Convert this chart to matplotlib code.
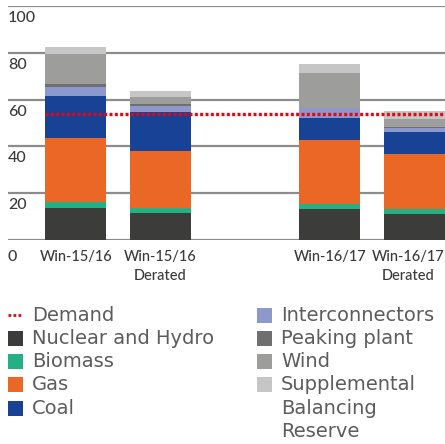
import numpy as np
import matplotlib
matplotlib.use("Agg")
import matplotlib.pyplot as plt
from matplotlib.patches import Rectangle
from matplotlib.lines import Line2D

# Winter capacity by source (GW)
categories = ["Win-15/16", "Win-15/16\nDerated", "Win-16/17", "Win-16/17\nDerated"]
positions = [0, 1, 3, 4]
label_positions = [0, 1, 3, 3.93]
nuclear_hydro = [13.7, 11.5, 13.2, 11.1]
biomass = [2.5, 2.3, 2.3, 2.1]
gas = [27.4, 24.2, 27.2, 23.6]
coal = [17.9, 16.8, 9.4, 9.4]
interconnectors = [3.9, 2.5, 4.3, 1.7]
peaking_plant = [1.3, 0.8, 0.0, 0.4]
wind = [12.8, 3.0, 15.0, 3.4]
sbr = [3.0, 2.6, 3.8, 3.4]
demand = 54.0
y_ticks = [0, 20, 40, 60, 80, 100]

series = [
    ("Nuclear and Hydro", nuclear_hydro, "#3c3c3b"),
    ("Biomass", biomass, "#23b082"),
    ("Gas", gas, "#eb6726"),
    ("Coal", coal, "#174296"),
    ("Interconnectors", interconnectors, "#8d98cc"),
    ("Peaking plant", peaking_plant, "#6f6f6f"),
    ("Wind", wind, "#9d9d9c"),
    ("Supplemental\nBalancing\nReserve", sbr, "#c6c6c6"),
]
demand_color = "#e30613"
text_color = "#3a3a3a"
legend_text_color = "#5c5c5c"

plt.rcParams["font.family"] = ["Lato", "DejaVu Sans"]

W, H = 445, 444
fig = plt.figure(figsize=(W / 100, H / 100), dpi=100)
ax = fig.add_axes([8 / W, (H - 240) / H, (445 - 8) / W, 234 / H])
ax.set_xlim(-0.8, 4.36)
ax.set_ylim(0, 100)
ax.axis("off")

for v in y_ticks:
    ax.axhline(v, color="#8c8c8c", lw=1.6, zorder=1)

bottom = np.zeros(len(positions))
for name, vals, col in series:
    ax.bar(positions, vals, width=0.72, bottom=bottom, color=col,
           linewidth=0, zorder=2)
    bottom += np.array(vals)

ax.plot([positions[0] - 0.36, 4.36], [demand, demand], color=demand_color,
        lw=2.4, ls=(0, (0.9, 0.7)), zorder=3)

# y labels sit just under their grid lines
for v in y_ticks:
    off = 7.3 if v == 0 else 5.1
    ax.text(-0.8, v - off, str(v), ha="left", va="center",
            fontsize=11.5, color=text_color, fontweight="medium")

for p, lab in zip(label_positions, categories):
    for i, ln in enumerate(lab.split("\n")):
        ax.text(p, -7.3 - i * 8.1, ln, ha="center", va="center",
                fontsize=10.5, color=text_color, fontweight="medium")

# legend, laid out in figure pixels
def fx(x):
    return x / W

def fy(y):
    return (H - y) / H

left_items = [("Demand", None)] + [(n, c) for n, _, c in series[:4]]
right_items = [(n, c) for n, _, c in series[4:]]
row_h = 23.3
for col_x, items in ((8, left_items), (257, right_items)):
    y = 315
    for name, col in items:
        if col is None:
            fig.add_artist(Line2D([fx(col_x), fx(col_x + 15)], [fy(y), fy(y)],
                                  color=demand_color, lw=2, ls=(0, (1, 0.8))))
        else:
            fig.add_artist(Rectangle((fx(col_x), fy(y + 7.5)), 15 / W, 15 / H,
                                     color=col, lw=0))
        for i, ln in enumerate(name.split("\n")):
            fig.text(fx(col_x + 24), fy(y + i * row_h), ln, ha="left",
                     va="center", fontsize=14, color=legend_text_color,
                     family="DejaVu Sans")
        y += row_h * len(name.split("\n"))

fig.savefig("out.png", dpi=100)
